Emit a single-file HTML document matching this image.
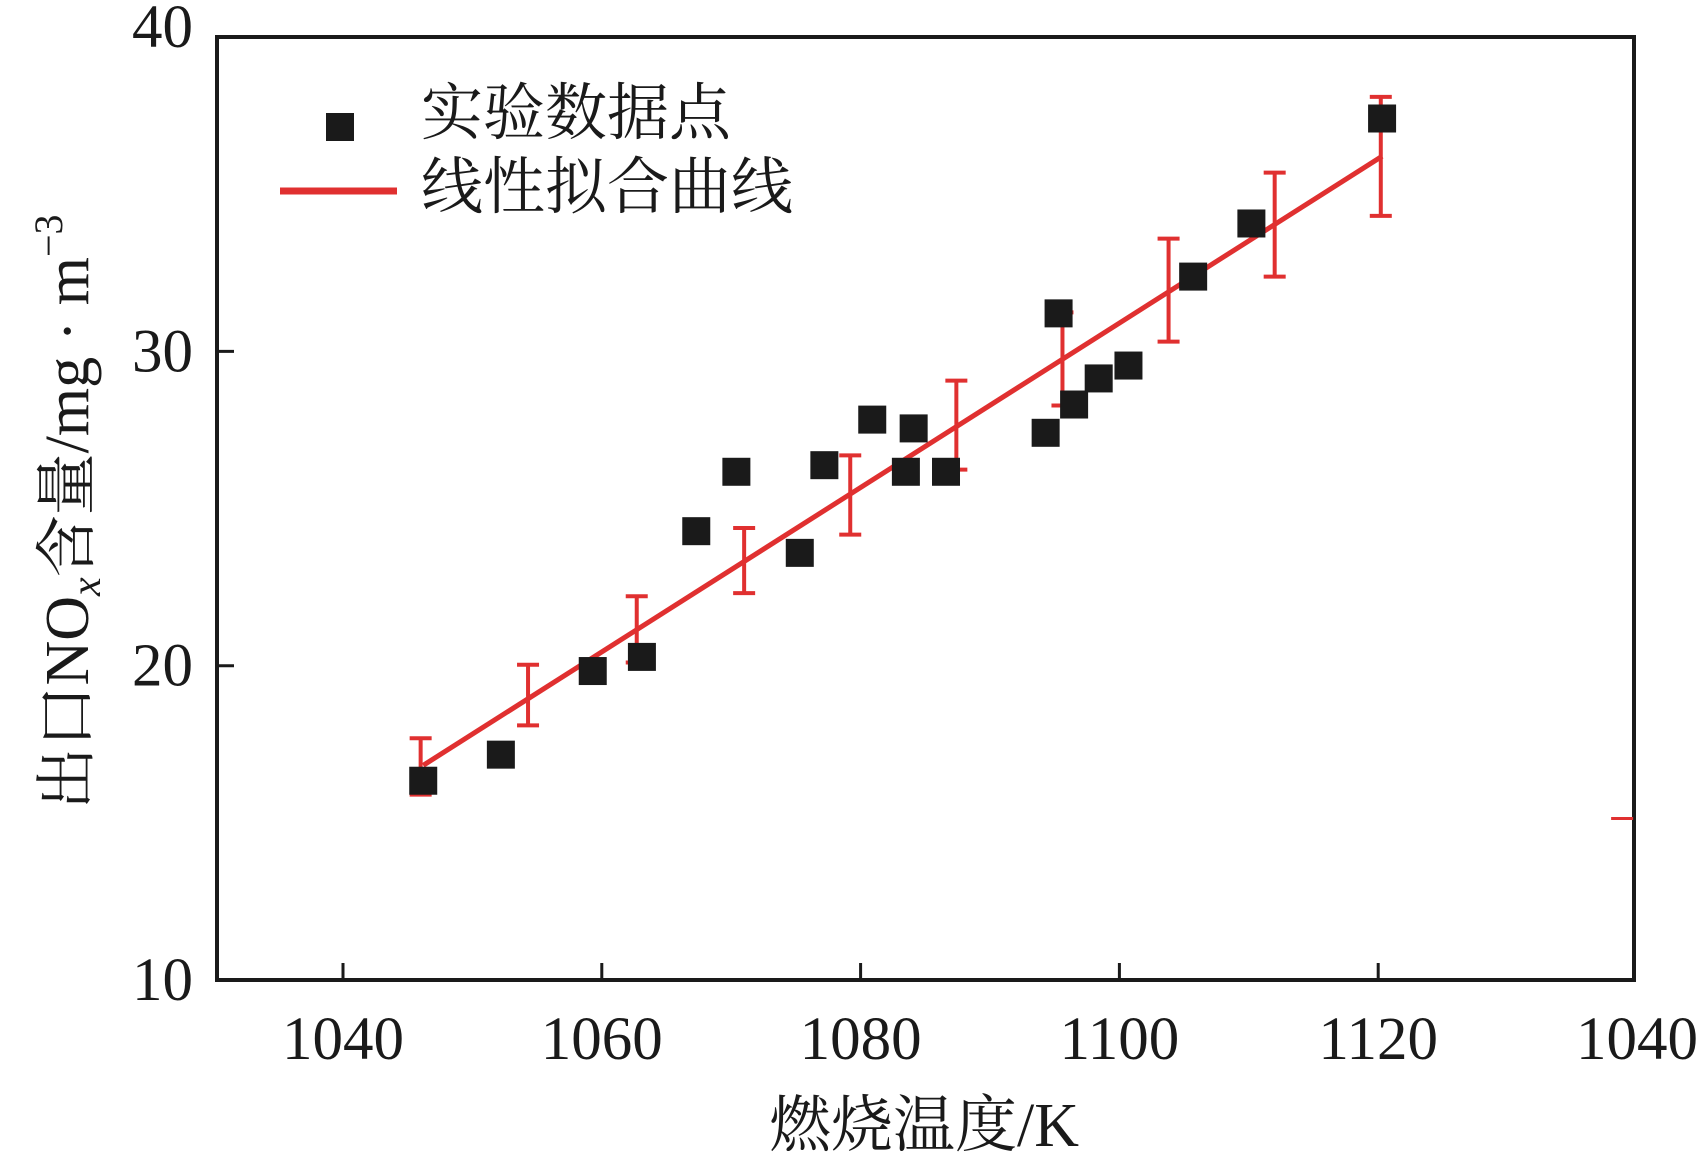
<!DOCTYPE html>
<html><head><meta charset="utf-8"><style>
html,body{margin:0;padding:0;background:#fff;}
svg{display:block;font-family:"Liberation Serif","Noto Serif CJK SC",serif;}
</style></head><body>
<svg id="chart" width="1701" height="1165" viewBox="0 0 1701 1165">
<rect x="217" y="37" width="1417" height="943" fill="none" stroke="#1a1a1a" stroke-width="4"/>
<g id="axes"></g>
<g id="errbars"></g>
<line id="fit" stroke="#e03030" stroke-width="5"/>
<g id="points"></g>
<g>
<rect x="326" y="113" width="28" height="28" fill="#1a1a1a"/>
<text x="421" y="134" font-size="62" fill="#1a1a1a">实验数据点</text>
<line x1="280" y1="191" x2="397" y2="191" stroke="#e03030" stroke-width="7"/>
<text x="421" y="208" font-size="62" fill="#1a1a1a">线性拟合曲线</text>
</g>
<text x="924" y="1146" font-size="62" text-anchor="middle" fill="#1a1a1a">燃烧温度/K</text>
<text transform="translate(88,512) rotate(-90)" font-size="62" text-anchor="middle" fill="#1a1a1a">出口NO<tspan font-style="italic" font-size="42" dy="12">x</tspan><tspan dy="-12">含量/mg · m</tspan><tspan font-size="40" dy="-26">−3</tspan></text>
</svg>
<script>
const xTickValues=[1040,1060,1080,1100,1120,1140];
const xTickLabels=["1040","1060","1080","1100","1120","1040"];
const yTickValues=[10,20,30,40];
const yTickLabels=["10","20","30","40"];
const pointX=[1046.2,1052.2,1059.3,1063.1,1067.3,1070.4,1075.3,1077.2,1080.9,1083.5,1084.1,1086.6,1094.3,1095.3,1096.5,1098.4,1100.7,1105.7,1110.2,1120.3];
const pointY=[16.34,17.17,19.83,20.28,24.28,26.17,23.59,26.38,27.83,26.17,27.55,26.17,27.41,31.21,28.31,29.14,29.55,32.38,34.07,37.41];
const fitX=[1046.2,1120.3];
const fitY=[16.83,36.21];
const errX=[1046,1054.3,1062.7,1071,1079.2,1087.4,1095.6,1103.8,1112,1120.2];
const errHigh=[17.69,20.03,22.21,24.38,26.69,29.07,31.24,33.59,35.69,38.10];
const errLow=[15.90,18.10,20.10,22.31,24.17,26.24,28.28,30.31,32.38,34.31];
const strayX=[1138.0,1139.7];
const strayY=[15.14];

const NS="http://www.w3.org/2000/svg";
function xs(v){return 343+(v-1040)*12.94;}
function ys(v){return 980-(v-10)*31.43;}
function mk(tag,attrs,parent){const e=document.createElementNS(NS,tag);for(const k in attrs)e.setAttribute(k,attrs[k]);parent.appendChild(e);return e;}
const axes=document.getElementById('axes');
xTickValues.forEach((v,i)=>{
  const x=xs(v);
  if(i<xTickValues.length-1){const t=mk('line',{x1:x,x2:x,y1:980,y2:963,stroke:'#1a1a1a','stroke-width':3},axes);
  
  }
  const l=mk('text',{x:Math.min(x,1638),y:1059,'font-size':61,'text-anchor':'middle',fill:'#1a1a1a'},axes);
  l.textContent=xTickLabels[i];
  
  
});
yTickValues.forEach((v,i)=>{
  const y=ys(v);
  if(i>0&&i<yTickValues.length-1){const t=mk('line',{x1:217,x2:234,y1:y,y2:y,stroke:'#1a1a1a','stroke-width':3},axes);
  
  }
  const l=mk('text',{x:193,y:y+(i==yTickValues.length-1?10:20),'font-size':61,'text-anchor':'end',fill:'#1a1a1a'},axes);
  l.textContent=yTickLabels[i];
  
  
});
const eb=document.getElementById('errbars');
errX.forEach((v,i)=>{
  const x=xs(v),y1=ys(errHigh[i]),y2=ys(errLow[i]);
  const g=mk('g',{stroke:'#e03030','stroke-width':4},eb);
  
  
  mk('line',{x1:x,x2:x,y1:y1,y2:y2},g);
  mk('line',{x1:x-11,x2:x+11,y1:y1,y2:y1},g);
  mk('line',{x1:x-11,x2:x+11,y1:y2,y2:y2},g);
});
const st=mk('line',{x1:xs(strayX[0]),x2:xs(strayX[1]),y1:ys(strayY[0]),y2:ys(strayY[0]),stroke:'#e03030','stroke-width':3},eb);


const fit=document.getElementById('fit');
fit.setAttribute('x1',xs(fitX[0]));fit.setAttribute('y1',ys(fitY[0]));
fit.setAttribute('x2',xs(fitX[1]));fit.setAttribute('y2',ys(fitY[1]));
const pts=document.getElementById('points');
pointX.forEach((v,i)=>{
  const r=mk('rect',{x:xs(v)-14,y:ys(pointY[i])-14,width:28,height:28,fill:'#1a1a1a'},pts);
  
  
});
</script>
</body></html>
